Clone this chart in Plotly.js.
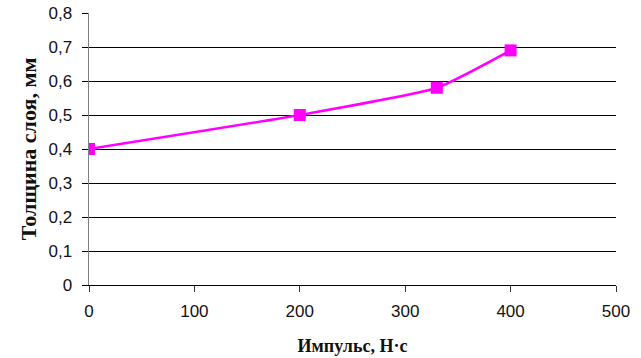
<!DOCTYPE html>
<html><head><meta charset="utf-8">
<script src="https://cdn.plot.ly/plotly-3.0.1.min.js"></script>
<style>html,body{margin:0;padding:0;background:#fff;}</style>
</head><body>
<div id="chart" style="width:641px;height:358px;"></div>
<script>
const impulse = [0, 200, 330, 400];
const thickness = [0.40, 0.50, 0.58, 0.69];
const yTickVals = [0, 0.1, 0.2, 0.3, 0.4, 0.5, 0.6, 0.7, 0.8];
const yTickText = ['0', '0,1', '0,2', '0,3', '0,4', '0,5', '0,6', '0,7', '0,8'];
const xTitle = 'Импульс, Н·с';
const yTitle = 'Толщина слоя, мм';

Plotly.newPlot('chart', [{
  x: impulse, y: thickness, type: 'scatter', mode: 'lines+markers',
  line: {color: '#FF00FF', width: 2.5, shape: 'spline', smoothing: 0.5},
  marker: {symbol: 'square', size: 12, color: '#FF00FF'}
}], {
  width: 641, height: 358,
  margin: {l: 89, r: 25, t: 13, b: 73},
  paper_bgcolor: '#fff', plot_bgcolor: '#fff',
  showlegend: false,
  font: {family: 'Liberation Sans, Arial', size: 17, color: '#000'},
  xaxis: {
    range: [0, 500], tickvals: [0,100,200,300,400,500],
    showgrid: false, zeroline: false,
    showline: true, linecolor: '#000', linewidth: 1,
    ticks: 'outside', ticklen: 6, tickcolor: '#333',
    ticklabelstandoff: 5,
    tickfont: {family: 'Liberation Sans, Arial', size: 17, color: '#111'},
    title: {text: xTitle, font: {family: 'Liberation Serif, Times New Roman', size: 18, weight: 'bold', color: '#111'}, standoff: 18}
  },
  yaxis: {
    range: [0, 0.8], tickvals: yTickVals, ticktext: yTickText,
    showgrid: true, gridcolor: '#000', gridwidth: 1, zeroline: false,
    showline: true, linecolor: '#808080', linewidth: 1.5,
    ticks: 'outside', ticklen: 6, tickcolor: '#000',
    ticklabelstandoff: 6,
    tickfont: {family: 'Liberation Sans, Arial', size: 17, color: '#111'},
    title: {text: yTitle, font: {family: 'Liberation Serif, Times New Roman', size: 22, weight: 'bold', color: '#111'}, standoff: 6}
  }
}, {displayModeBar: false, staticPlot: true});
</script>
</body></html>
